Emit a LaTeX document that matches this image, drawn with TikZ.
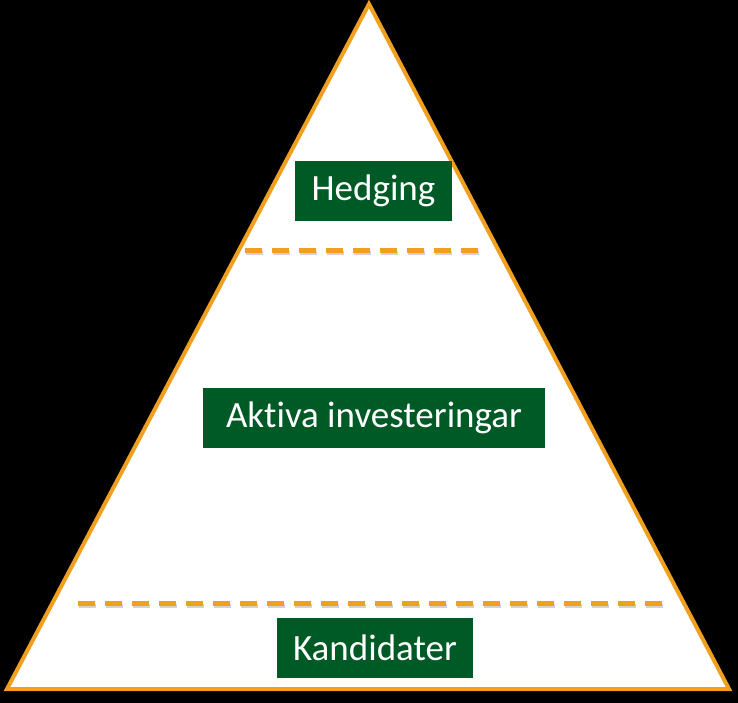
\documentclass[tikz,border=0pt]{standalone}
\usepackage{fontspec}
\setmainfont{Carlito}[Ligatures=NoCommon]
\usepackage{tikz}
\usetikzlibrary{positioning}
\definecolor{pyrorange}{RGB}{240,160,30}
\definecolor{pyrgreen}{RGB}{0,90,38}

\begin{document}
\begin{tikzpicture}
          [x=1pt, y=-1pt,
           level/.style={fill=pyrgreen, text=white, font=\fontsize{37}{44}\selectfont,
                         inner sep=0pt, anchor=center},
           divider/.style={draw=pyrorange, line width=5pt, dash pattern=on 17pt off 10pt}]
          \fill[black] (0,0) rectangle (738,703);
          \useasboundingbox (0,0) rectangle (738,703);

          \coordinate (top) at (369,4);
          \coordinate (bl) at (7,689);
          \coordinate (br) at (729,689);
          \filldraw[fill=white, draw=pyrorange, line width=4pt, line join=miter] (top) -- (br) -- (bl) -- cycle;

          \node (hedging) [level, minimum width=157pt, minimum height=60pt] at (373.5,191) {Hedging};
          \node (aktiva) [level, minimum width=342pt, minimum height=60pt] at (374,418) {Aktiva investeringar\hspace{22pt}};
          \node (kand) [level, minimum width=196pt, minimum height=60pt] at (375,648) {Kandidater};

          \coordinate (d1a) at (245,250);
          \coordinate (d1b) at (484,250);
          \coordinate (d2a) at (78,603);
          \coordinate (d2b) at (670,603);
          \draw[divider, draw=gray!35, line width=4pt] ([shift={(1,2.5)}]d1a) -- ([shift={(1,2.5)}]d1b);
          \draw[divider, draw=gray!35, line width=4pt] ([shift={(1,2.5)}]d2a) -- ([shift={(1,2.5)}]d2b);
          \draw[divider] (d1a) -- (d1b);
          \draw[divider] (d2a) -- (d2b);
        \end{tikzpicture}
\end{document}
